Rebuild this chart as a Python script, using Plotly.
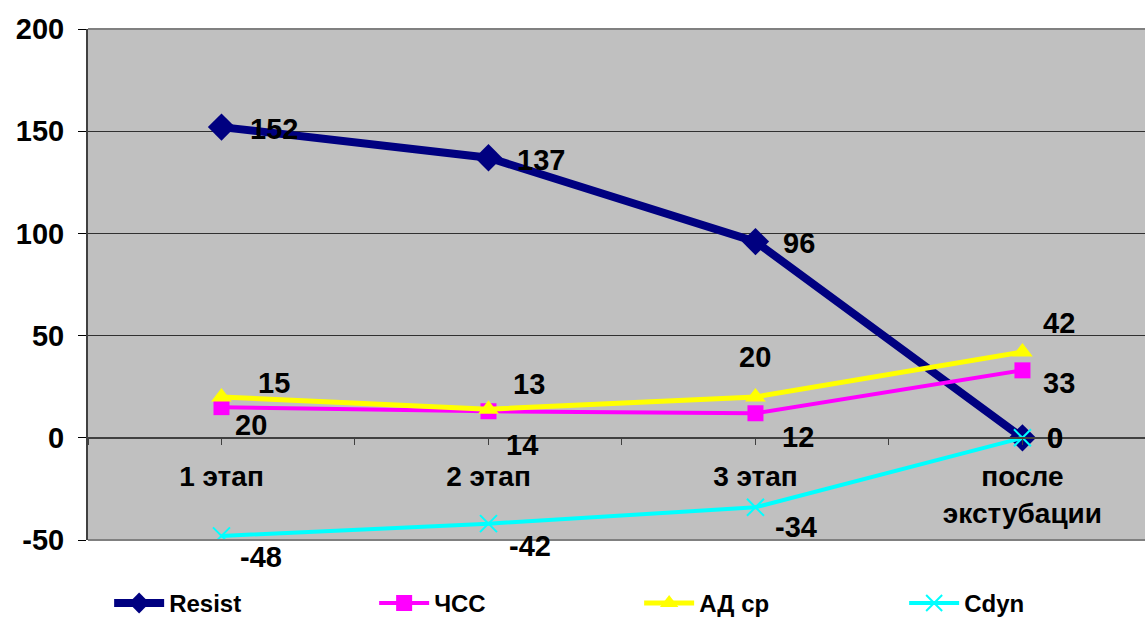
import plotly.graph_objects as go

# Stages of observation (category axis)
stages = ["1 этап", "2 этап", "3 этап", "после<br>экстубации"]
stage_pos = [0, 1, 2, 3]

# Relative change of each parameter by stage
resist = [152, 137, 96, 0]
chss = [15, 13, 12, 33]
ad_sr = [20, 14, 20, 42]
cdyn = [-48, -42, -34, 0]

# Value axis ticks
y_ticks = [-50, 0, 50, 100, 150, 200]

FONT = "Liberation Sans, Arial, sans-serif"
LABEL_FONT = dict(family=FONT, size=29, color="black", weight="bold")

fig = go.Figure()

series = [
    ("Resist", resist, "#000080", 8, dict(symbol="diamond", size=21, color="#000080")),
    ("ЧСС", chss, "#FF00FF", 4, dict(symbol="square", size=16, color="#FF00FF")),
    ("АД ср", ad_sr, "#FFFF00", 5, dict(symbol="triangle-up", size=18, color="#FFFF00")),
    ("Cdyn", cdyn, "#00FFFF", 4, dict(symbol="x-thin-open", size=17, color="#00FFFF",
                                      line=dict(color="#00FFFF", width=2))),
]
for name, vals, color, width, marker in series:
    fig.add_trace(go.Scatter(
        x=stage_pos, y=vals, name=name, mode="lines+markers",
        line=dict(color=color, width=width), marker=marker,
    ))

# Data labels: values with pixel offsets (dx right, dy up) for each point
label_sets = [
    (resist, [(53, -2), (53, -2), (44, -1), (33, 0)]),
    (chss, [(53, 24), (41, 27), (43, -24), (37, -13)]),
    (ad_sr, [(30, -28), (34, -36), (0, 40), (37, 29)]),
    (cdyn, [(40, -21), (42, -22), (41, -20), (33, 0)]),
]
for vals, offs in label_sets:
    for xi, v, (dx, dy) in zip(stage_pos, vals, offs):
        fig.add_annotation(
            x=xi, y=v, text=str(v), showarrow=False,
            xshift=dx, yshift=dy, font=LABEL_FONT,
        )

fig.update_layout(
    width=1145, height=619,
    margin=dict(l=88, r=0, t=29, b=79, autoexpand=False),
    paper_bgcolor="white",
    plot_bgcolor="#C0C0C0",
    font=dict(family=FONT, color="black"),
    showlegend=True,
    legend=dict(
        orientation="h", x=0.02, xanchor="left", y=-0.08, yanchor="top",
        font=dict(family="Liberation Sans Narrow, Arial Narrow, sans-serif", size=24,
                  color="black", weight="bold"),
        entrywidth=200, entrywidthmode="pixels",
        itemwidth=50, bgcolor="rgba(0,0,0,0)",
    ),
    xaxis=dict(
        range=[-0.5, 3.459],
        anchor="free", position=0.2,
        tickvals=[-0.5, 0, 0.5, 1, 1.5, 2, 2.5, 3],
        ticktext=["", stages[0], "", stages[1], "", stages[2], "", stages[3]],
        ticks="outside", ticklen=6, tickcolor="#404040", tickwidth=1,
        showline=True, linecolor="#404040", linewidth=2,
        showgrid=False, zeroline=False,
        tickfont=dict(family=FONT, size=28, color="black", weight="bold"),
        tickangle=0, ticklabelstandoff=8,
    ),
    yaxis=dict(
        range=[-50, 200], tickvals=y_ticks, ticktext=[str(t) for t in y_ticks],
        ticks="outside", ticklen=8, tickcolor="black", tickwidth=1,
        showline=True, linecolor="#404040", linewidth=2, mirror=False,
        showgrid=True, gridcolor="#303030", gridwidth=1,
        zeroline=False,
        tickfont=dict(family=FONT, size=29, color="black", weight="bold"),
        ticklabelstandoff=8,
    ),
)

# Thin gray frame on top and bottom of the plot area
fig.add_shape(type="line", xref="paper", yref="paper", x0=0, x1=1, y0=1, y1=1,
              line=dict(color="#808080", width=2))
fig.add_shape(type="line", xref="paper", yref="paper", x0=0, x1=1, y0=0, y1=0,
              line=dict(color="#808080", width=2))

fig.write_html("out.html")
